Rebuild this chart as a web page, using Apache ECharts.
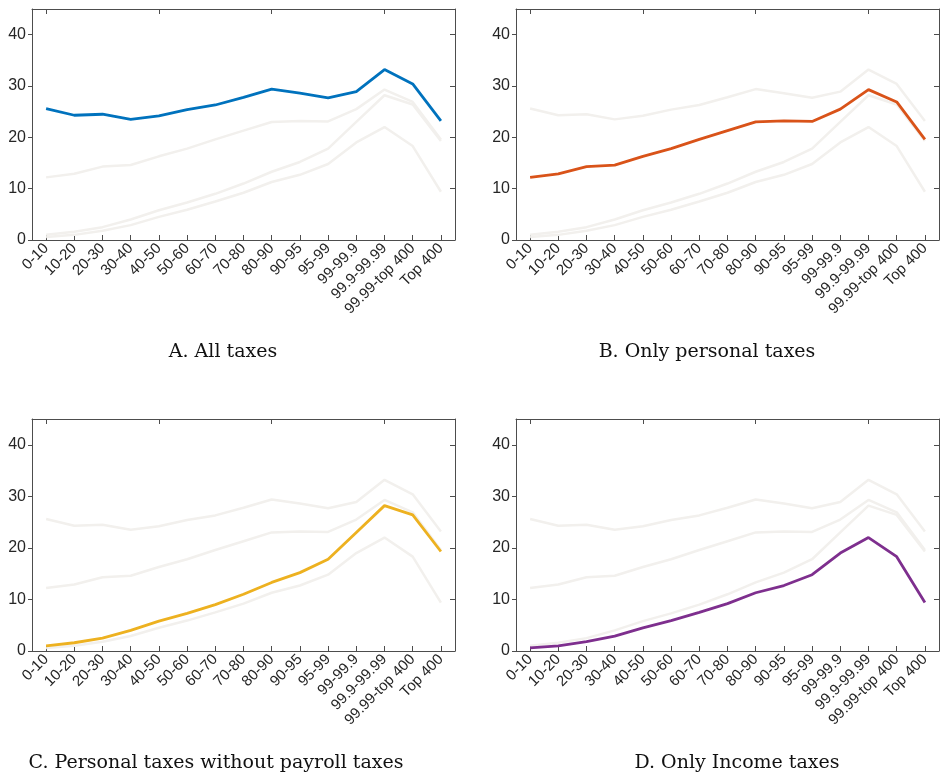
<!DOCTYPE html>
<html>
<head>
<meta charset="utf-8">
<script src="https://cdn.jsdelivr.net/npm/echarts@6/dist/echarts.min.js"></script>
<style>
html,body{margin:0;padding:0;background:#fff;}
#chart{width:948px;height:782px;}
</style>
</head>
<body>
<div id="chart"></div>
<script>
const categories = ['0-10','10-20','20-30','30-40','40-50','50-60','60-70','70-80','80-90','90-95','95-99','99-99.9','99.9-99.99','99.99-top 400','Top 400'];
const allTaxes = [25.6,24.3,24.5,23.5,24.2,25.4,26.3,27.8,29.4,28.6,27.7,28.9,33.2,30.4,23.2];
const personalTaxes = [12.2,12.9,14.3,14.6,16.3,17.8,19.6,21.3,23.0,23.2,23.1,25.5,29.3,26.9,19.6];
const noPayrollTaxes = [1.0,1.6,2.5,4.0,5.8,7.3,9.0,11.0,13.3,15.2,17.8,23.0,28.2,26.4,19.3];
const incomeTaxes = [0.6,1.0,1.8,2.9,4.5,5.9,7.5,9.2,11.3,12.7,14.8,19.0,22.0,18.3,9.4];
const yTicks = [0,10,20,30,40];
const panelTitles = ['A. All taxes','B. Only personal taxes','C. Personal taxes without payroll taxes','D. Only Income taxes'];

const seriesData = [allTaxes, personalTaxes, noPayrollTaxes, incomeTaxes];
const colors = ['#0072BD','#D95319','#EDB120','#7E2F8E'];
const gray = '#f2f0ed';
const axisColor = '#4d4d4d';
const labelColor = '#262626';

const grids = [
  {left:32, top:9, width:423, height:231},
  {left:516, top:9, width:423, height:231},
  {left:32, top:419, width:423, height:232},
  {left:516, top:419, width:423, height:232}
];
const titlePos = [[223,352],[707,352],[216,763],[737,763]];

const xAxes = [], yAxes = [], series = [], graphics = [];
grids.forEach((g, i) => {
  xAxes.push({
    type:'category', gridIndex:i, data:categories, boundaryGap:true, position:'bottom',
    axisLine:{show:true, onZero:false, lineStyle:{color:axisColor, width:1}},
    axisTick:{show:true, inside:true, length:5, alignWithLabel:true, lineStyle:{color:axisColor}},
    axisLabel:{show:true, interval:0, rotate:45, margin:6, color:labelColor, fontSize:15, fontFamily:'Liberation Sans, Arial, sans-serif'},
    splitLine:{show:false}
  });
  xAxes.push({
    type:'category', gridIndex:i, data:categories, boundaryGap:true, position:'top',
    axisLine:{show:true, onZero:false, lineStyle:{color:axisColor, width:1}},
    axisTick:{show:true, inside:true, length:5, alignWithLabel:true, lineStyle:{color:axisColor}},
    axisLabel:{show:false}, splitLine:{show:false}
  });
  yAxes.push({
    type:'value', gridIndex:i, min:0, max:45, position:'left',
    axisLine:{show:true, onZero:false, lineStyle:{color:axisColor, width:1}},
    axisTick:{show:true, inside:false, length:4, customValues:yTicks, lineStyle:{color:axisColor}},
    axisLabel:{show:true, customValues:yTicks, margin:6, color:labelColor, fontSize:16, fontFamily:'Liberation Sans, Arial, sans-serif'},
    splitLine:{show:false}
  });
  yAxes.push({
    type:'value', gridIndex:i, min:0, max:45, position:'right',
    axisLine:{show:true, onZero:false, lineStyle:{color:axisColor, width:1}},
    axisTick:{show:true, inside:true, length:5, customValues:yTicks, lineStyle:{color:axisColor}},
    axisLabel:{show:false}, splitLine:{show:false}
  });
  seriesData.forEach((d, j) => {
    if (j === i) return;
    series.push({type:'line', xAxisIndex:2*i, yAxisIndex:2*i, data:d, symbol:'none', silent:true,
      lineStyle:{color:gray, width:2.5}, z:2});
  });
  series.push({type:'line', xAxisIndex:2*i, yAxisIndex:2*i, data:seriesData[i], symbol:'none',
    lineStyle:{color:colors[i], width:2.8}, z:3});
  graphics.push({type:'text', x:titlePos[i][0], y:titlePos[i][1],
    style:{text:panelTitles[i], fill:'#111', font:'19px "DejaVu Serif", serif', textAlign:'center', textVerticalAlign:'middle'}});
});

const chart = echarts.init(document.getElementById('chart'), null, {renderer:'canvas'});
chart.setOption({
  animation:false,
  backgroundColor:'#fff',
  grid: grids.map(g => Object.assign({containLabel:false, show:false}, g)),
  xAxis: xAxes,
  yAxis: yAxes,
  series: series,
  graphic: graphics
});
</script>
</body>
</html>
